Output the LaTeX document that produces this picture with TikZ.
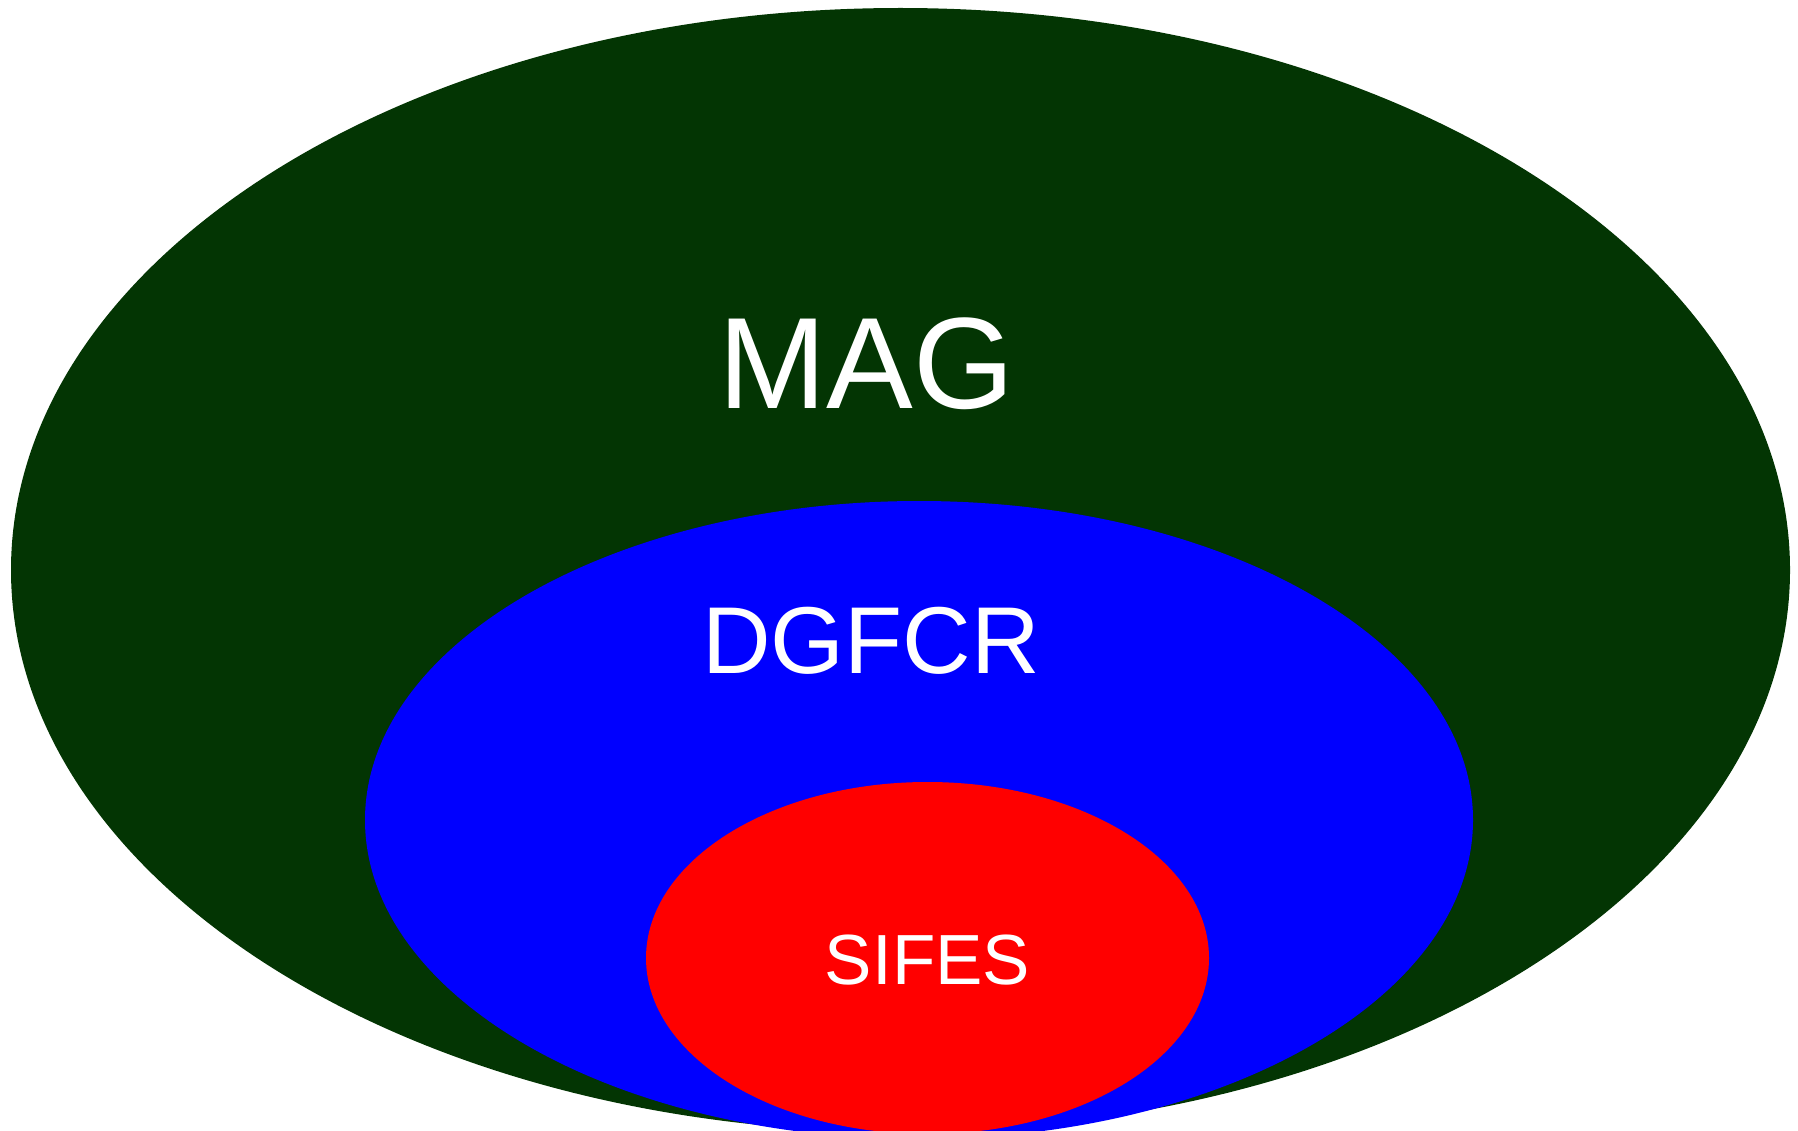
\documentclass[tikz,border=0pt]{standalone}
\usepackage{fontspec}
\setmainfont{Liberation Sans}
\usetikzlibrary{shapes.geometric}
\definecolor{maggreen}{RGB}{3,53,3}
\definecolor{dgblue}{RGB}{0,0,255}
\definecolor{sifred}{RGB}{255,0,0}
\tikzset{
  region/.style={ellipse, inner sep=0pt, draw=none},
  lbl/.style={anchor=base, inner sep=0pt, text=white},
}
\begin{document}
\begin{tikzpicture}[x=1pt,y=-1pt]
  \useasboundingbox (0,0) rectangle (1798,1131);
  \clip (0,0) rectangle (1798,1131);
  \node[region, fill=maggreen, minimum width=1779pt, minimum height=1124pt] (mag) at (900.5,570) {};
  \node[region, fill=dgblue, minimum width=1108pt, minimum height=638pt] (dgfcr) at (919,820) {};
  \node[region, fill=sifred, minimum width=563pt, minimum height=352pt] (sifes) at (927.5,958) {};
  \node[lbl, font=\fontsize{130}{156}\selectfont] (magt) at (866.5,408) {MAG};
  \node[lbl, font=\fontsize{95}{114}\selectfont] (dgfcrt) at (871,673) {DGFCR};
  \node[lbl, font=\fontsize{71}{85}\selectfont] (sifest) at (927.5,984) {SIFES};
\end{tikzpicture}
\end{document}
